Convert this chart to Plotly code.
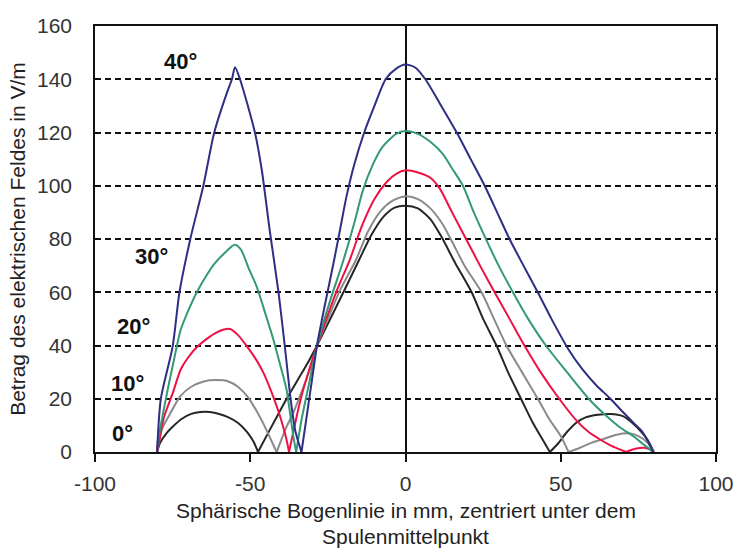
import plotly.graph_objects as go

# Field magnitude along the spherical arc (mm) for five coil tilt angles
pos_00 = [-80, -79, -77, -75, -72, -69, -66, -63, -60, -57, -54, -51, -49, -47.5,
          -45, -42, -39, -35, -31, -28.5, -24, -20, -15, -11, -7, -3.5, 0,
          4, 8, 11.5, 16, 21.3, 25, 29.3, 33, 37.2, 41, 44, 46.5,
          49, 52, 55, 58, 62, 66, 70, 73, 76, 78, 80]
feld_00 = [0, 3.5, 7, 9.5, 12.5, 14.3, 15, 15, 14.3, 13, 11, 7.5, 4, 0,
           5.5, 12, 18.5, 26.5, 34.5, 40, 50.5, 60, 72, 81.5, 88.5, 91.8, 92.5,
           91.5, 87.5, 81, 71, 60, 50, 40, 30, 20, 11, 5, 0,
           3, 7.5, 11, 13, 14, 14.3, 13.5, 11, 7.5, 4.5, 0]

pos_10 = [-80, -78.5, -76, -72.5, -69, -65, -61, -57, -54, -51, -48, -45.5, -43.5, -41.5,
          -38.5, -36.2, -33, -30.5, -28.5, -25, -21, -16, -12, -8, -4, 0,
          4, 8, 11.7, 15, 19, 24.5, 28.5, 32.5, 37.5, 42.6, 46.5, 50, 52.5,
          56, 60, 64, 68, 72, 75, 78, 80]
feld_10 = [0, 8.5, 14, 21, 24.5, 26.5, 27, 26.5, 24.5, 21, 15.5, 10, 5, 0,
           9, 14.6, 24, 32, 40, 50, 61, 72, 83, 90.5, 94.5, 96,
           95, 91.5, 86, 79, 70, 60, 50, 40, 30, 20, 12, 6, 0,
           1.5, 3.5, 5, 6.5, 7, 6, 3.5, 0]

pos_20 = [-80, -79, -77.7, -75, -72.4, -70, -67, -64, -61.5, -58.5, -56.5, -54, -51, -48,
          -45.7, -43, -40.4, -38.5, -37.5,
          -35.5, -33.5, -31, -28.5, -25.5, -22, -18, -14, -10, -6, -3, 0,
          4, 8, 11, 15, 19.5, 24, 28.7, 33.5, 38.3, 43.5, 49.5, 55.3, 59, 62.8, 66, 69, 71,
          74, 77, 79, 80]
feld_20 = [0, 6, 13.4, 22, 31, 35.5, 39.6, 42.5, 44.5, 46, 46.2, 44, 39.6, 34.5,
           29.6, 22, 13.4, 5.5, 0,
           11, 21, 31, 40, 50, 61, 72, 85, 95, 101.5, 104.5, 105.8,
           105, 103, 99, 90, 80, 70, 60, 50, 40, 30, 20, 11.5, 7.5, 4.6, 2.5, 1, 0,
           1.2, 1.6, 0.8, 0]

pos_30 = [-80, -79.8, -78, -76.6, -74.5, -72.4, -70, -67, -64, -61.7, -58, -55, -53, -50.5,
          -47.9, -45, -42.5, -40.3, -38.3, -37, -36, -35.2,
          -33.5, -31, -28.5, -24.5, -20, -16.5, -13.8, -10.5, -7.4, -3, 0,
          4, 8, 12, 15, 18.5, 22, 25.5, 30, 34.6, 39.5, 45.2, 52, 59, 64.8, 69, 73.4, 76.5, 78.7, 79.5]
feld_30 = [0, 3.5, 15, 23.4, 35, 45.9, 53, 60.5, 66.5, 70.5, 75, 77.8, 76, 69,
           62, 51.5, 42, 32.5, 23.4, 13, 5, 0,
           12, 26, 40, 56, 72, 86, 98, 108, 114.6, 119.5, 120.6,
           119.5, 116.5, 112, 106.5, 100, 90, 81, 70, 60, 50, 40, 30, 20, 13.4, 9.3, 5.9, 3, 1, 0]

pos_40 = [-80, -78.8, -75, -72.8, -69.3, -65.1, -61.6, -57.5, -55.9, -54.9, -53.3, -48.5,
          -46.3, -43.7, -40.9, -38.9, -37, -35.5, -33.5,
          -32, -30.5, -28.5, -26, -23, -21, -19, -16.5, -13.3, -10, -6.4, -3, 0,
          3, 6.4, 11, 16.5, 21, 25.5, 29.5, 33.5, 38, 42.6, 47, 52.5, 57, 61.5, 66, 70,
          73.4, 76, 77.6, 79.8]
feld_40 = [0, 20, 39.6, 60, 80, 100, 120, 135, 140, 144.5, 140, 120,
           106, 83, 60, 40, 20, 8, 0,
           12, 24, 40, 55, 72, 84, 96, 108, 120, 130, 140, 144, 145.5,
           144.5, 140, 131, 120, 110, 100, 90, 80, 70, 60, 50, 38.5, 31, 25, 20, 15,
           11, 8, 5, 0]

angle_labels = ["0°", "10°", "20°", "30°", "40°"]
label_x = [-91.3, -89.4, -87.5, -81.7, -72.5]
label_y = [7.1, 25.8, 47.1, 73.3, 146.8]

x_ticks = [-100, -50, 0, 50, 100]
x_tick_text = ["-100", "-50", "0", "50", "100"]

series = [
    (pos_00, feld_00, "#262626"),
    (pos_10, feld_10, "#8a8a8a"),
    (pos_20, feld_20, "#ee1144"),
    (pos_30, feld_30, "#339977"),
    (pos_40, feld_40, "#2e2e85"),
]


def split_lobes(xs, ys):
    """Split a curve at its interior zeros so each lobe is smoothed on its own."""
    cuts = [0] + [i for i in range(1, len(ys) - 1) if ys[i] == 0] + [len(ys) - 1]
    return [(xs[a:b + 1], ys[a:b + 1]) for a, b in zip(cuts[:-1], cuts[1:])]


fig = go.Figure()
for (xs, ys, col), name in zip(series, angle_labels):
    for lx, ly in split_lobes(xs, ys):
        fig.add_trace(go.Scatter(x=lx, y=ly, mode="lines", name=name,
                                 line=dict(color=col, width=2, shape="spline", smoothing=0.7),
                                 showlegend=False))

font_family = "Liberation Sans, Arial, sans-serif"

for txt, lx, ly in zip(angle_labels, label_x, label_y):
    fig.add_annotation(x=lx, y=ly, text=f"<b>{txt}</b>", showarrow=False,
                       font=dict(family=font_family, size=22, color="#111"))

fig.add_annotation(xref="paper", yref="paper", x=0.5, y=-0.138,
                   text="Sphärische Bogenlinie in mm, zentriert unter dem",
                   showarrow=False, yanchor="middle",
                   font=dict(family=font_family, size=21, color="#222"))
fig.add_annotation(xref="paper", yref="paper", x=0.5, y=-0.198,
                   text="Spulenmittelpunkt",
                   showarrow=False, yanchor="middle",
                   font=dict(family=font_family, size=21, color="#222"))

fig.update_layout(
    width=746, height=552, autosize=False,
    margin=dict(l=95, r=24, t=26, b=100),
    paper_bgcolor="white", plot_bgcolor="white",
    font=dict(family=font_family, size=21, color="#333"),
)
fig.update_xaxes(
    range=[-100, 100], tickvals=x_ticks, ticktext=x_tick_text,
    showgrid=False,
    zeroline=True, zerolinecolor="#111", zerolinewidth=1.5,
    showline=True, mirror=True, linecolor="#111", linewidth=1.5,
    ticks="outside", ticklen=8, tickwidth=1.5, tickcolor="#111",
    ticklabelstandoff=4,
)
fig.update_yaxes(
    range=[0, 160], dtick=20, tick0=0,
    showgrid=True, gridcolor="#111", gridwidth=1.5, griddash="6px,4px",
    zeroline=False,
    showline=True, mirror=True, linecolor="#111", linewidth=1.5,
    ticks="", ticklabelstandoff=17,
    title=dict(text="Betrag des elektrischen Feldes in V/m", standoff=6,
               font=dict(family=font_family, size=21, color="#222")),
)

fig.write_html("out.html")
